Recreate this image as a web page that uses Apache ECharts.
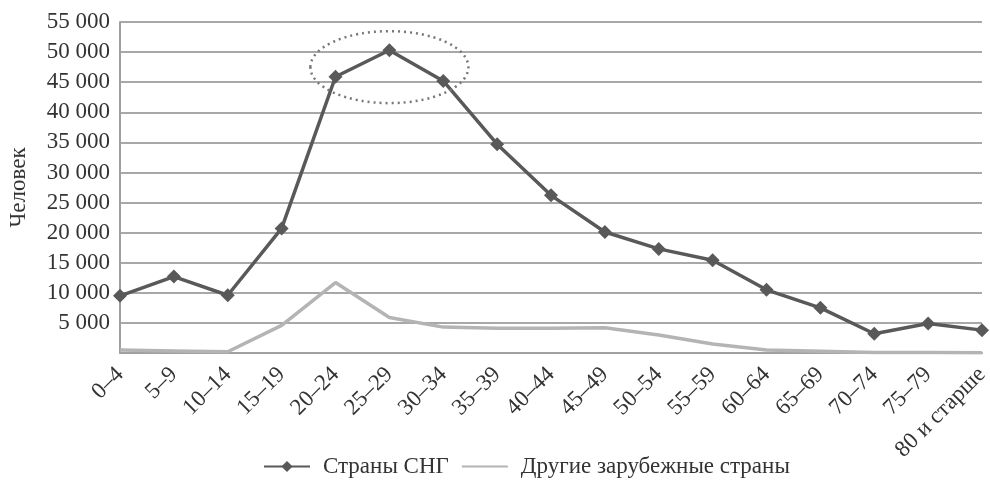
<!DOCTYPE html>
<html>
<head>
<meta charset="utf-8">
<script src="https://cdn.jsdelivr.net/npm/echarts@6/dist/echarts.min.js"></script>
<style>
  html, body { margin: 0; padding: 0; background: #fff; }
  #chart { width: 990px; height: 485px; }
</style>
</head>
<body>
<div id="chart"></div>
<script>
// возрастные группы
const ageGroups = ['0–4', '5–9', '10–14', '15–19', '20–24', '25–29', '30–34', '35–39', '40–44',
  '45–49', '50–54', '55–59', '60–64', '65–69', '70–74', '75–79', '80 и старше']
// страны СНГ
const cisValues = [9500, 12700, 9600, 20700, 45900, 50300, 45200, 34700, 26200,
  20100, 17300, 15400, 10500, 7500, 3200, 4900, 3800]
// другие зарубежные страны
const otherValues = [500, 350, 200, 4600, 11700, 5900, 4300, 4100, 4100,
  4200, 3000, 1500, 500, 300, 100, 100, 50]
const seriesNames = ['Страны СНГ', 'Другие зарубежные страны']

const font = 'Liberation Serif'
const textColor = '#333'

const chart = echarts.init(document.getElementById('chart'))

chart.setOption({
  backgroundColor: '#ffffff',
  animation: false,
  textStyle: { fontFamily: font },
  grid: { left: 120, right: 8, top: 22, bottom: 132, containLabel: false, outerBoundsMode: 'none' },
  legend: {
    bottom: 2,
    left: 258,
    itemWidth: 46,
    itemHeight: 14,
    itemGap: 12,
    textStyle: { fontFamily: font, fontSize: 23, color: textColor, padding: [0, 0, 0, 8] },
    data: [
      { name: seriesNames[0] },
      { name: seriesNames[1], itemStyle: { opacity: 0 } }
    ]
  },
  xAxis: {
    type: 'category',
    boundaryGap: false,
    data: ageGroups,
    axisLine: { lineStyle: { color: '#a0a0a0', width: 2 } },
    axisTick: { show: false },
    axisLabel: {
      rotate: 45,
      interval: 0,
      margin: 18,
      fontFamily: font,
      fontSize: 23,
      color: textColor
    }
  },
  yAxis: {
    type: 'value',
    min: 0,
    max: 55000,
    interval: 5000,
    name: 'Человек',
    nameLocation: 'middle',
    nameGap: 90,
    nameTextStyle: { fontFamily: font, fontSize: 23, color: textColor },
    axisLine: { show: true, lineStyle: { color: '#a0a0a0', width: 2 } },
    axisTick: { show: false },
    splitLine: { lineStyle: { color: '#a8a8a8', width: 2 } },
    axisLabel: {
      margin: 10,
      fontFamily: font,
      fontSize: 23,
      color: textColor,
      formatter: v => v === 0 ? '' : String(v).replace(/\B(?=(\d{3})+(?!\d))/g, ' ')
    }
  },
  series: [{
    name: seriesNames[0],
    type: 'line',
    data: cisValues,
    symbol: 'diamond',
    symbolSize: 14,
    lineStyle: { color: '#595959', width: 3.5 },
    itemStyle: { color: '#595959' },
    z: 3
  }, {
    name: seriesNames[1],
    type: 'line',
    data: otherValues,
    symbol: 'none',
    lineStyle: { color: '#b4b4b4', width: 3.5 },
    itemStyle: { color: '#b4b4b4' },
    z: 2
  }]
})

// пунктирный эллипс вокруг пика
const c = chart.convertToPixel({ gridIndex: 0 }, [ageGroups[5], 47500])
chart.setOption({
  graphic: [{
    type: 'ellipse',
    shape: { cx: c[0], cy: c[1], rx: 79, ry: 36 },
    style: { fill: 'none', stroke: '#777', lineWidth: 2.5, lineDash: [2, 4] },
    z: 10
  }]
})
</script>
</body>
</html>
